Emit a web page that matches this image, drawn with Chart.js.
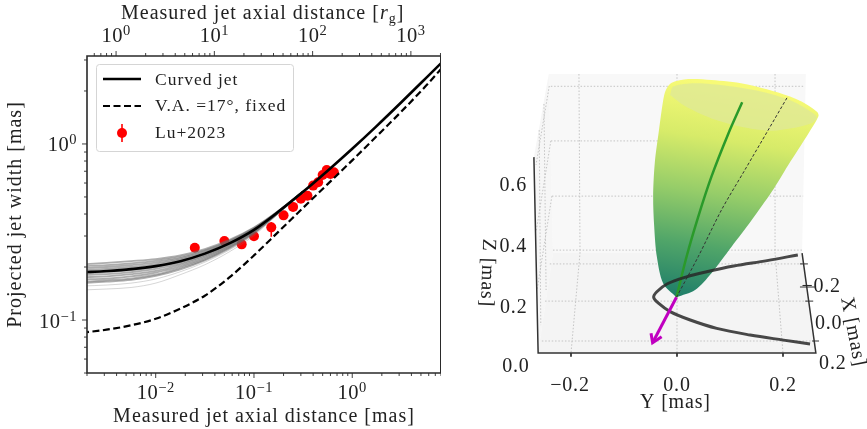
<!DOCTYPE html>
<html lang="en"><head><meta charset="UTF-8">
<title>Curved jet</title>
<script src="https://cdn.jsdelivr.net/npm/chart.js@4/dist/chart.umd.min.js"></script>
<style>
html,body{margin:0;padding:0;background:#fff}
canvas{position:absolute;top:0}
#left{left:0}
#right{left:450px}
</style></head><body>
<canvas id="left" width="441" height="429"></canvas>
<canvas id="right" width="417" height="429"></canvas>
<script>
const FONT = '"Liberation Serif", serif';

// --- left panel: values
const dist = [.00178,.00316,.00562,.01,.0178,.0316,.0562,.1,.178,.316,.562,1,1.78,3.16,5.62,10];
const curved = [.1868,.1898,.1945,.2023,.2158,.2382,.2723,.3251,.4130,.5346,.7047,.9397,1.2677,1.7258,2.366,3.251];
const fixedVA = [.0847,.0881,.0933,.1016,.1161,.1374,.1746,.2328,.3177,.4335,.5916,.8072,1.109,1.528,2.138,3.069];

const sampleDist = [.00178,.00316,.00562,.01,.0178,.0316,.0562,.1,.178,.316];
const samples = [
  [.207,.211,.216,.222,.233,.253,.285,.335,.417,.538],
  [.202,.205,.210,.217,.228,.249,.282,.333,.416,.538],
  [.197,.200,.205,.212,.224,.246,.279,.330,.415,.538],
  [.192,.195,.200,.207,.220,.242,.276,.328,.414,.537],
  [.184,.187,.192,.200,.214,.236,.271,.324,.412,.537],
  [.180,.182,.187,.195,.210,.233,.268,.321,.411,.537],
  [.175,.177,.182,.190,.206,.229,.264,.319,.410,.536],
  [.170,.172,.177,.186,.202,.225,.261,.316,.409,.536],
  [.165,.168,.172,.181,.198,.221,.258,.314,.408,.536],
  [.162,.165,.169,.178,.194,.218,.255,.311,.407,.535],
  [.156,.158,.162,.171,.188,.213,.250,.307,.405,.535],
  [.148,.150,.153,.162,.181,.206,.244,.302,.403,.535]
];

const luDist = [.025,.05,.075,.1,.15,.2,.25,.3,.35,.4,.45,.5,.55,.6,.65];
const luWidth = [.2576,.281,.269,.299,.336,.393,.439,.489,.508,.58,.606,.667,.711,.675,.69];
const luLow = [.25,.272,.262,.29,.297,.38,.425,.475,.495,.565,.59,.65,.69,.655,.67];
const luHigh = [.265,.29,.276,.308,.36,.406,.453,.503,.521,.595,.622,.684,.732,.695,.71];

const legendNames = ['Curved jet','V.A. =17°, fixed','Lu+2023'];

function pts(xs, ys) { return xs.map((x, i) => ({x, y: ys[i]})); }

// "10" plus a raised exponent, the way the reference sets its log ticks
function powerLabel(ctx, v, x, y, rightAlign) {
  const exp = Math.round(Math.log10(v));
  const expText = (exp < 0 ? '−' : '') + Math.abs(exp);
  ctx.font = '20.5px ' + FONT;
  const w10 = ctx.measureText('10').width;
  ctx.font = '14.5px ' + FONT;
  const w = w10 + ctx.measureText(expText).width;
  const x0 = rightAlign ? x - w : x - w / 2;
  ctx.font = '20.5px ' + FONT;
  ctx.fillText('10', x0, y);
  ctx.font = '14.5px ' + FONT;
  ctx.fillText(expText, x0 + w10, y - 7);
}

const axisFrame = {
  id: 'axisFrame',
  beforeDraw(chart) { chart.ctx.letterSpacing = '1px'; },
  beforeDatasetsDraw(chart) {
    // error bars sit under the dots and the curves
    const {ctx, scales} = chart;
    ctx.save();
    ctx.strokeStyle = '#ff0000';
    ctx.lineWidth = 1.6;
    luDist.forEach((d, i) => {
      const p = scales.x.getPixelForValue(d);
      ctx.beginPath();
      ctx.moveTo(p, scales.y.getPixelForValue(luLow[i]));
      ctx.lineTo(p, scales.y.getPixelForValue(luHigh[i]));
      ctx.stroke();
    });
    ctx.restore();
  },
  afterDatasetsDraw(chart) {
    const {ctx, chartArea: a, scales} = chart;
    ctx.save();
    ctx.strokeStyle = '#2a2a2a';
    ctx.lineWidth = 1.6;
    ctx.beginPath();
    ctx.moveTo(a.right, a.top); ctx.lineTo(a.left, a.top); ctx.lineTo(a.left, a.bottom); ctx.lineTo(a.right, a.bottom);
    ctx.stroke();
    ctx.lineWidth = 1;
    ctx.beginPath(); ctx.moveTo(a.right - .5, a.top); ctx.lineTo(a.right - .5, a.bottom); ctx.stroke();
    ctx.lineWidth = .9;
    ctx.fillStyle = '#222';
    ctx.letterSpacing = '0.5px';
    for (const id of ['x', 'x2', 'y']) {
      const s = scales[id];
      for (const t of s.ticks) {
        const e = Math.floor(Math.log10(t.value) + 1e-9);
        const m = t.value / Math.pow(10, e);
        if (Math.abs(m - Math.round(m)) > 1e-6) continue;
        const major = Math.abs(m - 1) < 1e-6;
        const len = major ? 5 : 3;
        const p = s.getPixelForValue(t.value);
        ctx.beginPath();
        if (id === 'x') { ctx.moveTo(p, a.bottom); ctx.lineTo(p, a.bottom + len); }
        if (id === 'x2') { ctx.moveTo(p, a.top); ctx.lineTo(p, a.top - len); }
        if (id === 'y') { ctx.moveTo(a.left, p); ctx.lineTo(a.left - len, p); }
        ctx.stroke();
        if (major) {
          if (id === 'x') powerLabel(ctx, t.value, p, 399, false);
          if (id === 'x2') powerLabel(ctx, t.value, p, 42, false);
          if (id === 'y') powerLabel(ctx, t.value, 77, p + 7.5, true);
        }
      }
    }
    ctx.restore();
  },
  afterDraw(chart) {
    const {ctx} = chart;
    ctx.save();
    // top axis title, needs italic r and a subscript
    ctx.fillStyle = '#222';
    ctx.textBaseline = 'alphabetic';
    let x = 121;
    const parts = [['Measured jet axial distance [', '20px ' + FONT, 19], ['r', 'italic 20px ' + FONT, 19], ['g', '14px ' + FONT, 23], [']', '20px ' + FONT, 19]];
    ctx.letterSpacing = '1px';
    for (const [txt, font, y] of parts) {
      ctx.font = font;
      ctx.fillText(txt, x, y);
      x += ctx.measureText(txt).width;
    }
    // legend box
    ctx.fillStyle = 'rgba(255,255,255,.85)';
    ctx.strokeStyle = '#d5d5d5';
    ctx.lineWidth = 1;
    ctx.beginPath();
    ctx.roundRect(96.5, 64.5, 197, 87, 3);
    ctx.fill();
    ctx.stroke();
    ctx.fillStyle = '#222';
    ctx.font = '17.5px ' + FONT;
    ctx.letterSpacing = '1px';
    ctx.textBaseline = 'middle';
    legendNames.forEach((n, i) => ctx.fillText(n, 155, 80 + i * 26.7));
    ctx.strokeStyle = '#000';
    ctx.lineWidth = 2.4;
    ctx.beginPath(); ctx.moveTo(103, 79); ctx.lineTo(141, 79); ctx.stroke();
    ctx.lineWidth = 2.2;
    ctx.setLineDash([7, 3.5]);
    ctx.beginPath(); ctx.moveTo(103, 106); ctx.lineTo(141, 106); ctx.stroke();
    ctx.setLineDash([]);
    ctx.strokeStyle = '#ff0000';
    ctx.fillStyle = '#ff0000';
    ctx.lineWidth = 1.6;
    ctx.beginPath(); ctx.moveTo(122, 124); ctx.lineTo(122, 142); ctx.stroke();
    ctx.beginPath(); ctx.arc(122, 133, 5, 0, Math.PI * 2); ctx.fill();
    ctx.restore();
  }
};

new Chart(document.getElementById('left'), {
  type: 'line',
  data: {
    datasets: [
      {label: 'Curved jet', data: pts(dist, curved), borderColor: '#000', borderWidth: 2.6, pointRadius: 0, cubicInterpolationMode: 'monotone'},
      {label: 'V.A. =17°, fixed', data: pts(dist, fixedVA), borderColor: '#000', borderWidth: 2.2, borderDash: [7, 3.5], pointRadius: 0, cubicInterpolationMode: 'monotone'},
      ...samples.map((s, i) => ({data: pts(sampleDist, s), borderColor: i > 9 ? 'rgba(120,120,120,.3)' : 'rgba(105,105,105,.55)', borderWidth: i > 9 ? 1 : 1.8, pointRadius: 0, cubicInterpolationMode: 'monotone'})),
      {label: 'Lu+2023', data: pts(luDist, luWidth), showLine: false, pointRadius: 5, pointBackgroundColor: '#ff0000', pointBorderColor: '#ff0000', borderWidth: 0}
    ]
  },
  options: {
    responsive: false,
    animation: false,
    layout: {padding: 0, autoPadding: false},
    plugins: {legend: {display: false}, tooltip: {enabled: false}},
    scales: {
      x: {
        type: 'logarithmic', position: 'bottom', min: 0.002, max: 8,
        grid: {display: false}, border: {display: false},
        afterFit(s) { s.height = 56; },
        ticks: {display: false, autoSkip: false},
        title: {display: true, text: 'Measured jet axial distance [mas]', color: '#222', font: {family: FONT, size: 20}, padding: {top: 0, bottom: 0}}
      },
      x2: {
        type: 'logarithmic', position: 'top', axis: 'x', min: 0.506, max: 2025,
        grid: {display: false}, border: {display: false},
        afterFit(s) { s.height = 56; },
        ticks: {display: false, autoSkip: false}
      },
      y: {
        type: 'logarithmic', min: 0.05, max: 3.16,
        grid: {display: false}, border: {display: false},
        afterFit(s) { s.width = 87; },
        ticks: {display: false, autoSkip: false},
        title: {display: true, text: 'Projected jet width [mas]', color: '#222', font: {family: FONT, size: 20}, padding: {top: 4, bottom: 0}}
      }
    }
  },
  plugins: [axisFrame]
});

// --- right panel: 3D view, values are projected Y / Z in mas
const wallBackX = [-.242,.243,.236,-.234], wallBackY = [.930,.930,.333,.333];
const wallLeftX = [-.242,-.270,-.262,-.234], wallLeftY = [.930,.653,0,.333];
const floorX = [-.262,.262,.236,-.234], floorY = [0,0,.333,.333];

const gridLines = [
  [[-.185,-.183,-.2],[.930,.333,0]],
  [[0,0,0],[.930,.333,0]],
  [[.185,.185,.2],[.930,.333,0]],
  [[-.238,.24],[.889,.889]],
  [[-.238,.24],[.707,.707]],
  [[-.236,.238],[.523,.523]],
  [[-.234,.236],[.343,.343]],
  [[-.24,.236],[.297,.297]],
  [[-.249,.245],[.173,.173]],
  [[-.255,.26],[.040,.040]],
  [[-.241,-.266],[.890,.627]],
  [[-.238,-.266],[.707,.403]],
  [[-.236,-.264],[.523,.210]],
  [[-.251,-.247],[.83,.21]],
  [[-.26,-.257],[.743,.093]]
];

const surfaceX = [-.001,-.026,-.038,-.043,-.045,-.042,-.034,-.026,-.021,-.010,.021,.065,.128,.191,.235,.264,.267,.248,.210,.179,.141,.103,.065,.034,-.001];
const surfaceY = [.186,.232,.321,.421,.521,.632,.743,.843,.877,.901,.913,.910,.897,.868,.838,.804,.790,.732,.627,.538,.443,.354,.266,.210,.186];
const rimX = [-.013,.015,.065,.128,.179,.216,.254,.264,.257,.216,.160,.097,.034,-.007,-.013];
const rimY = [.860,.823,.782,.752,.741,.749,.766,.783,.799,.841,.871,.890,.899,.888,.860];
const surfaceStops = ['rgb(30,125,105)','rgb(80,165,105)','rgb(150,205,105)','rgb(215,235,105)','rgb(247,250,118)'];

const projX = [.228,.170,.107,.056,.018,-.019,-.038,-.044,-.035,-.013,.025,.075,.138,.201,.251];
const projY = [.327,.308,.290,.271,.254,.230,.204,.186,.166,.138,.110,.082,.060,.043,.030];
const jetX = [-.001,.018,.040,.065,.097,.123];
const jetY = [.186,.321,.454,.588,.732,.836];
const fixedX = [-.001,.040,.084,.128,.172,.208];
const fixedY = [.186,.321,.477,.610,.743,.852];
const arrowX = [-.001,-.046], arrowY = [.186,.034];
const arrowHeadX = [-.049,-.046,-.029], arrowHeadY = [.066,.034,.054];

const spines = [
  [[-.270,-.262,.262,.236],[.653,0,0,.333]],
  [[-.2,-.2],[0,-.012]], [[0,0],[0,-.012]], [[.2,.2],[0,-.012]],
  [[.232,.247],[.297,.297]], [[.232,.260],[.220,.220]], [[.242,.257],[.173,.173]], [[.255,.268],[.040,.040]]
];

const panelText = ['0.6','0.4','0.2','0.0','−0.2','0.0','0.2','−0.2','0.0','0.2','Y [mas]','X [mas]','Z [mas]'];
const panelTextX = [-.309,-.309,-.308,-.304,-.202,0,.2,.272,.286,.294,-.003,.332,-.358];
const panelTextY = [.557,.353,.15,-.047,-.11,-.11,-.11,.22,.097,-.037,-.167,.07,.267];
const panelTextRot = [0,0,0,0,0,0,0,0,0,0,0,79,92];

function shape(xs, ys, color, extra) {
  return Object.assign({data: pts(xs, ys), fill: 'shape', backgroundColor: color, borderWidth: 0, pointRadius: 0}, extra);
}
function stroke(xs, ys, color, width, extra) {
  return Object.assign({data: pts(xs, ys), fill: false, borderColor: color, borderWidth: width, pointRadius: 0}, extra);
}

function surfaceFill(c) {
  const chart = c.chart;
  if (!chart.chartArea) return surfaceStops[0];
  const {x, y} = chart.scales;
  const g = chart.ctx.createLinearGradient(x.getPixelForValue(-.001), y.getPixelForValue(.186), x.getPixelForValue(.06), y.getPixelForValue(.90));
  surfaceStops.forEach((col, i) => g.addColorStop(i / (surfaceStops.length - 1), col));
  return g;
}

const layers = [
  shape(wallBackX, wallBackY, '#f8f8f8'),
  shape(wallLeftX, wallLeftY, '#f6f6f6'),
  shape(floorX, floorY, '#f4f4f4'),
  ...gridLines.map(l => stroke(l[0], l[1], '#c4c4c4', 1, {borderDash: [1.5, 1.8]})),
  stroke(spines[0][0], spines[0][1], '#333', 1.5),
  ...spines.slice(1).map(l => stroke(l[0], l[1], '#333', 1)),
  shape(surfaceX, surfaceY, surfaceFill, {tension: .3}),
  shape(rimX, rimY, 'rgba(222,232,150,.8)', {tension: .3}),
  stroke(jetX, jetY, '#2a9a2a', 2.5, {tension: .3}),
  stroke(fixedX, fixedY, '#333', 1, {borderDash: [3, 2], tension: .3}),
  stroke(projX, projY, 'rgba(40,40,40,.85)', 3, {tension: .35}),
  stroke(arrowX, arrowY, '#c000c0', 3),
  stroke(arrowHeadX, arrowHeadY, '#c000c0', 3)
];

const panelLabels = {
  id: 'panelLabels',
  afterDraw(chart) {
    const {ctx, scales} = chart;
    ctx.save();
    ctx.letterSpacing = '0.8px';
    ctx.fillStyle = '#222';
    ctx.textAlign = 'center';
    ctx.textBaseline = 'middle';
    panelText.forEach((t, i) => {
      ctx.save();
      ctx.translate(scales.x.getPixelForValue(panelTextX[i]), scales.y.getPixelForValue(panelTextY[i]));
      ctx.rotate(panelTextRot[i] * Math.PI / 180);
      ctx.font = '20px ' + FONT;
      ctx.fillText(t, 0, 0);
      ctx.restore();
    });
    ctx.restore();
  }
};

new Chart(document.getElementById('right'), {
  type: 'line',
  data: {datasets: layers.map((d, i) => Object.assign(d, {order: layers.length - i}))},
  options: {
    responsive: false,
    animation: false,
    layout: {padding: 0},
    plugins: {legend: {display: false}, tooltip: {enabled: false}},
    scales: {
      x: {type: 'linear', min: -.4283, max: .3585, display: false},
      y: {type: 'linear', min: -.2533, max: 1.1767, display: false}
    }
  },
  plugins: [panelLabels]
});
</script>
</body></html>
